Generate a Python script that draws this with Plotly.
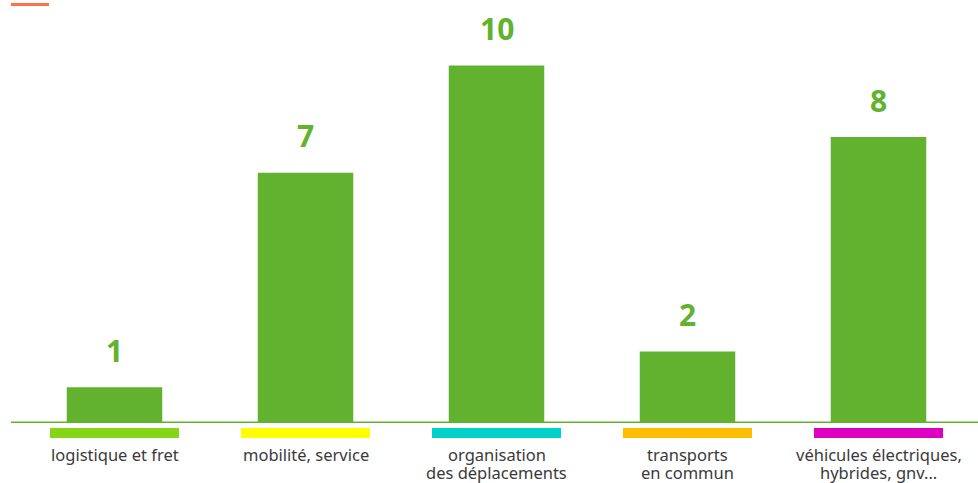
import plotly.graph_objects as go

categories = ["logistique et fret", "mobilité, service", "organisation<br>des déplacements",
              "transports<br>en commun", "véhicules électriques,<br>hybrides, gnv..."]
values = [1, 7, 10, 2, 8]
strip_colors = ["#84d616", "#ffff00", "#00d2ca", "#ffbd00", "#dd00c0"]

GREEN = "#62b22f"
PLOT_W, PLOT_H = 955, 411

fig = go.Figure()
fig.add_trace(go.Bar(
    x=list(range(len(categories))), y=values,
    marker=dict(color=GREEN, line=dict(width=0)),
    width=0.5, hoverinfo="skip",
))

for i, v in enumerate(values):
    fig.add_annotation(x=i, y=v, text=f"<b>{v}</b>", showarrow=False,
                       yanchor="middle", yshift=37,
                       font=dict(size=30, color=GREEN, family="Noto Sans"))

# category labels, one annotation per line for tight line spacing
for i, cat in enumerate(categories):
    for k, line in enumerate(cat.split("<br>")):
        fig.add_annotation(x=i, xref="x", y=0, yref="paper", text=line,
                           showarrow=False, yanchor="middle", xanchor="center",
                           yshift=-(31 + 18 * k), borderpad=0,
                           font=dict(size=16.5, color="#3a3a3a", family="Noto Sans"))

shapes = []
for i, c in enumerate(strip_colors):
    shapes.append(dict(type="rect", xref="x", yref="paper",
                       x0=i - 0.3377, x1=i + 0.3377, y0=-15 / PLOT_H, y1=-5 / PLOT_H,
                       fillcolor=c, line=dict(width=0), layer="above"))
# baseline
shapes.append(dict(type="line", xref="paper", yref="y", x0=-8 / PLOT_W, x1=1 + 4 / PLOT_W,
                   y0=0, y1=0, line=dict(color=GREEN, width=3), layer="above"))
# orange mark top-left
shapes.append(dict(type="line", xref="paper", yref="paper",
                   x0=-8 / PLOT_W, x1=30 / PLOT_W, y0=1 + 7.5 / PLOT_H, y1=1 + 7.5 / PLOT_H,
                   line=dict(color="#ff7050", width=3)))

fig.update_layout(
    width=978, height=483,
    margin=dict(l=19, r=4, t=12, b=60, autoexpand=False),
    paper_bgcolor="white", plot_bgcolor="white",
    showlegend=False, shapes=shapes,
    xaxis=dict(range=[-0.5, 4.5], showticklabels=False, showgrid=False, zeroline=False,
               showline=False, ticks="", automargin=False),
    yaxis=dict(range=[0, 11.5], visible=False, showgrid=False, zeroline=False,
               automargin=False),
)

fig.write_html("out.html", config={"displayModeBar": False},
               post_script="document.body.style.margin='0';")
